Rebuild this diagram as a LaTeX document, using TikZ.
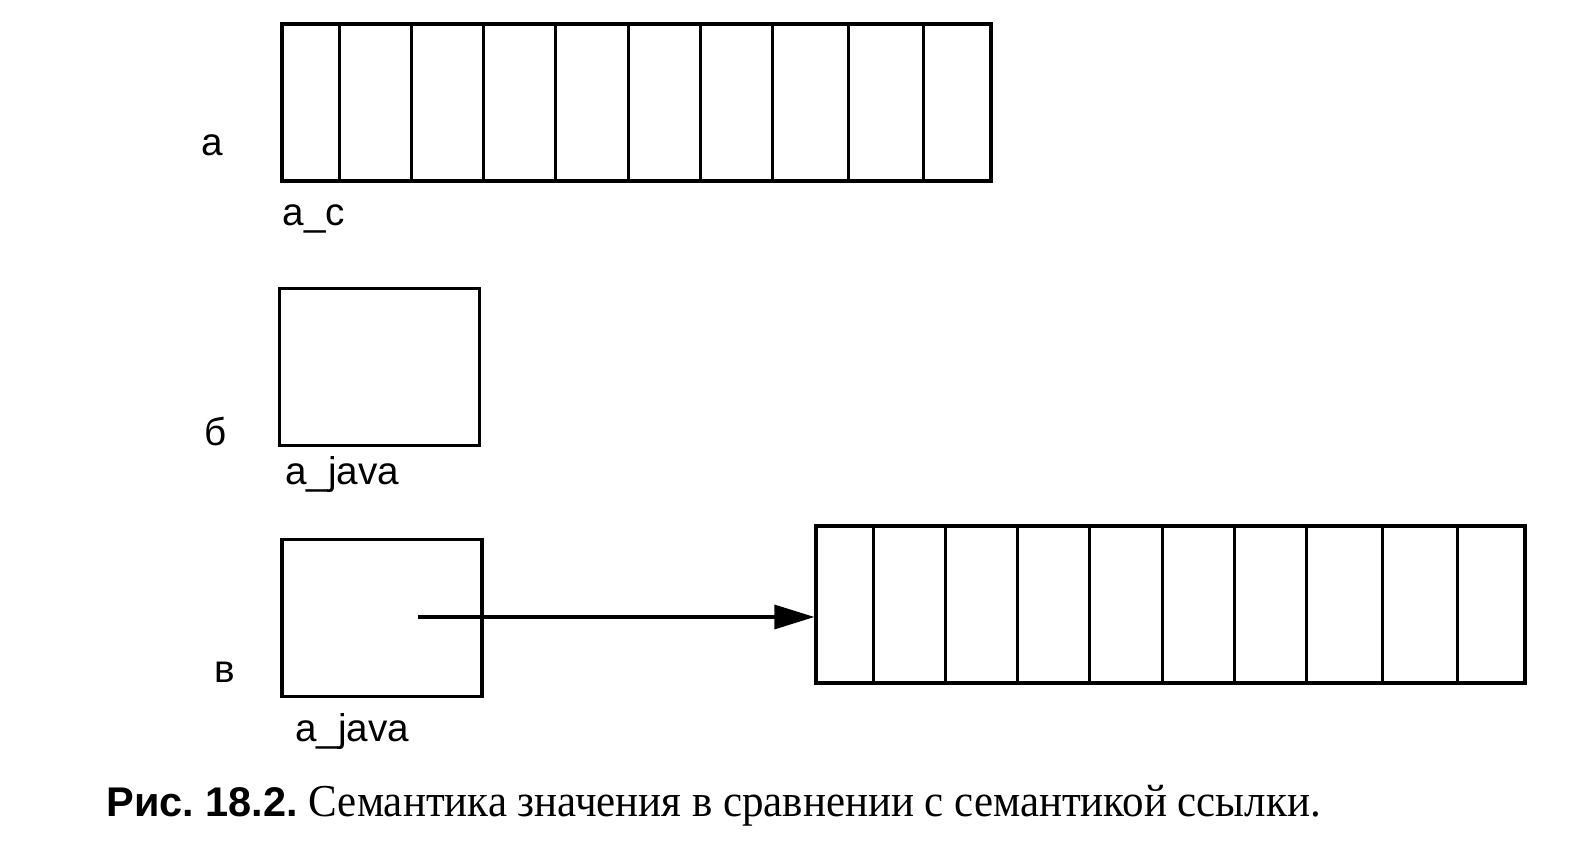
\documentclass[tikz,border=0pt]{standalone}
\usepackage{fontspec}
\setmainfont{Liberation Serif}[FakeStretch=0.94]
\newfontfamily\labfont{Liberation Sans}
\usetikzlibrary{arrows.meta}
\frenchspacing
\begin{document}
\begin{tikzpicture}[line width=0.9pt,
  arraybox/.style={draw, rectangle, minimum width=7.09cm, minimum height=1.57cm, inner sep=0pt},
  varbox/.style={draw, rectangle, minimum width=2cm, minimum height=1.57cm, inner sep=0pt},
  lab/.style={font=\labfont\fontsize{11}{13}\selectfont, inner sep=0pt}]
\useasboundingbox (0,0) rectangle (15.84,-8.58);
\node[arraybox] (ac) at (6.365,-1.025) {};
\node[varbox] (bjava) at (3.795,-3.67) {};
\node[varbox] (cjava) at (3.82,-6.18) {};
\node[arraybox] (ref) at (11.705,-6.045) {};
\foreach \d in {0.59,1.31,2.03,2.75,3.48,4.20,4.92,5.68,6.43} {
  \draw ([xshift=\d cm]ac.south west) -- ([xshift=\d cm]ac.north west);
  \draw ([xshift=\d cm]ref.south west) -- ([xshift=\d cm]ref.north west);
}
\node[lab] (la) at (2.12,-1.45) {а};
\node[lab] (lb) at (2.16,-4.32) {б};
\node[lab] (lc) at (2.25,-6.72) {в};
\node[lab] (nac) at (3.14,-2.19) {a\_c};
\node[lab] (nbjava) at (3.42,-4.75) {a\_java};
\node[lab] (ncjava) at (3.52,-7.32) {a\_java};
\coordinate (p) at (4.18,-6.17);
\draw[-{Triangle[length=4mm,width=2.4mm]}] (p) -- (p -| ref.west);
\node[anchor=base west, inner sep=0pt, font=\fontsize{13}{15}\selectfont] (cap) at (1.05,-8.17)
  {{\labfont\fontsize{11.8}{14}\selectfont\bfseries Рис. 18.2.} Семантика значения в сравнении с семантикой ссылки.};
\end{tikzpicture}
\end{document}
